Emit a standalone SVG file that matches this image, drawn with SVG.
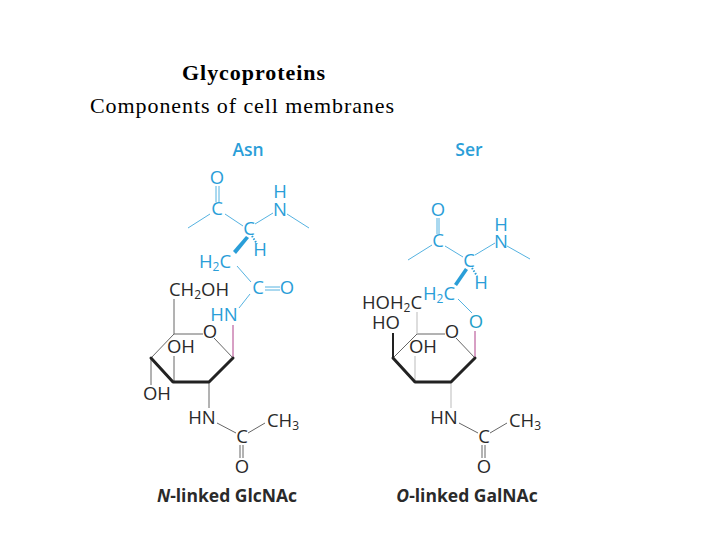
<svg xmlns="http://www.w3.org/2000/svg" width="720" height="540" viewBox="0 0 720 540">
<style>
.t{font-family:"Liberation Serif",serif;font-size:22px;fill:#000}
.a{font-family:"Open Sans","Noto Sans",sans-serif;font-size:18.5px;text-anchor:middle}
.b{fill:#2a9ed8}.k{fill:#2a2a2a}
.s{font-size:12px}
.lab{font-family:"Open Sans","Noto Sans",sans-serif;font-size:17.5px;font-weight:700;fill:#2a2a2a;text-anchor:middle}
.hd{font-family:"Open Sans","Noto Sans",sans-serif;font-size:17.5px;font-weight:600;fill:#2a9ed8;text-anchor:middle}
.bl{stroke:#2a9ed8;stroke-width:.8;fill:none}
.g{stroke:#666;stroke-width:1;fill:none}
.lg{stroke:#bbb;stroke-width:1;fill:none}
.th{stroke:#222;stroke-width:3;fill:none;stroke-linejoin:round;stroke-linecap:round}
.m{stroke:#b0408a;stroke-width:1;fill:none}
.w{fill:#2a9ed8}
</style>
<rect width="720" height="540" fill="#fff"/>
<g id="title">
<text class="t" x="182" y="80" font-weight="700" textLength="143" lengthAdjust="spacing">Glycoproteins</text>
<text class="t" x="90" y="113" textLength="304" lengthAdjust="spacing">Components of cell membranes</text>
</g>
<g id="connectors">
<path class="bl" d="M188 228L210 214M225 214L243 226M255 224L273 213M287 214L309 228M216 186V202M219 186V202M237 266L251 282M250 294L239 308M265 287H280M265 290H280"/>
<path class="w" d="M246 236L249 238L236 254L233 251Z"/>
<path d="M252 236L257 244" stroke="#2a9ed8" stroke-width="2" stroke-dasharray="1.5 1.5" fill="none"/>
<path class="g" d="M174 334V299M174 334H203M214 338L233 358M151 358L174 334M174 382V356M151 358V385M209 382V408M217 423L236 433M248 433L265 423M240 445V458M243 445V458"/>
<path class="m" d="M233 358V325"/>
<path class="th" d="M233 358L209 382H173L151 358"/>

<path class="bl" d="M408 260L432 245M445 246L463 257M475 255L495 243M507 246L530 259M437 218V234M439 218V234M458 299L472 313"/>
<path class="w" d="M465 268L468 270L457 286L454 284Z"/>
<path d="M472 268L477 276" stroke="#2a9ed8" stroke-width="2" stroke-dasharray="1.5 1.5" fill="none"/>
<path class="g" d="M393 358L417 334M417 334H445M456 338L475 358M459 423L478 433M490 433L507 423M482 445V458M485 445V458"/>
<path class="lg" d="M417 334V312M415 382V356M451 382V408"/>
<path class="m" d="M475 358V331"/>
<path stroke="#222" stroke-width="2" fill="none" d="M393 358V333"/>
<path class="th" d="M475 358L451 382H415L393 358"/>
</g>
<g id="asn">
<text class="hd" x="248" y="156">Asn</text>
<text class="a b" x="217" y="184">O</text>
<text class="a b" x="217" y="215">C</text>
<text class="a b" x="280" y="198">H</text>
<text class="a b" x="280" y="216">N</text>
<text class="a b" x="249" y="235">C</text>
<text class="a b" x="260" y="256">H</text>
<text class="a b" x="215" y="268">H<tspan class="s" dy="3">2</tspan><tspan dy="-3">C</tspan></text>
<text class="a b" x="258" y="294">C</text>
<text class="a b" x="287" y="294">O</text>
<text class="a b" x="224" y="321">HN</text>
</g>
<g id="glcnac">
<text class="a k" x="199" y="296">CH<tspan class="s" dy="3">2</tspan><tspan dy="-3">OH</tspan></text>
<text class="a k" x="210" y="338">O</text>
<text class="a k" x="181" y="353">OH</text>
<text class="a k" x="157" y="400">OH</text>
<text class="a k" x="202" y="424">HN</text>
<text class="a k" x="283" y="427">CH<tspan class="s" dy="3">3</tspan></text>
<text class="a k" x="242" y="443">C</text>
<text class="a k" x="242" y="473">O</text>
<text class="lab" x="227" y="502"><tspan font-style="italic">N</tspan>-linked GlcNAc</text>
</g>
<g id="ser">
<text class="hd" x="469" y="156">Ser</text>
<text class="a b" x="438" y="216">O</text>
<text class="a b" x="438" y="247">C</text>
<text class="a b" x="501" y="231">H</text>
<text class="a b" x="501" y="248">N</text>
<text class="a b" x="469" y="267">C</text>
<text class="a b" x="481" y="289">H</text>
<text class="a b" x="439" y="300">H<tspan class="s" dy="3">2</tspan><tspan dy="-3">C</tspan></text>
<text class="a" x="476" y="328" fill="#1fa0c8">O</text>
</g>
<g id="galnac">
<text class="a k" x="392" y="309">HOH<tspan class="s" dy="3">2</tspan><tspan dy="-3">C</tspan></text>
<text class="a k" x="386" y="329">HO</text>
<text class="a k" x="452" y="338">O</text>
<text class="a k" x="423" y="353">OH</text>
<text class="a k" x="444" y="424">HN</text>
<text class="a k" x="525" y="427">CH<tspan class="s" dy="3">3</tspan></text>
<text class="a k" x="484" y="443">C</text>
<text class="a k" x="484" y="473">O</text>
<text class="lab" x="467" y="502"><tspan font-style="italic">O</tspan>-linked GalNAc</text>
</g>
</svg>
